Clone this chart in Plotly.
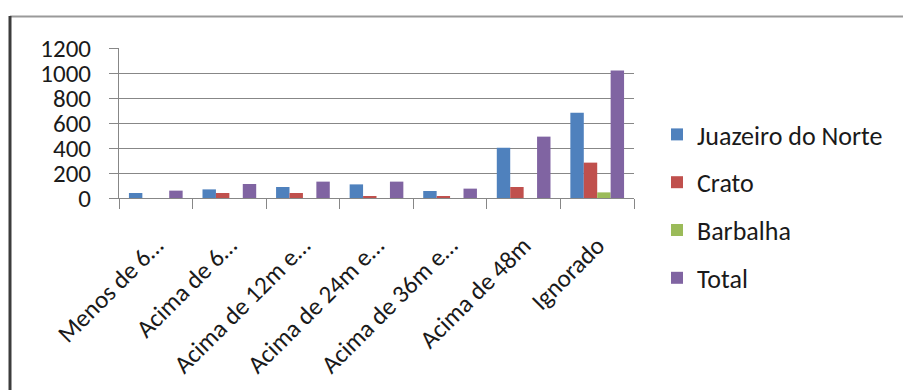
import plotly.graph_objects as go

categories = ["Menos de 6…", "Acima de 6…", "Acima de 12m e…", "Acima de 24m e…",
              "Acima de 36m e…", "Acima de 48m", "Ignorado"]
juazeiro = [40, 69, 88, 109, 56, 402, 683]
crato = [0, 40, 40, 16, 16, 88, 283]
barbalha = [0, 0, 0, 0, 0, 0, 45]
total = [59, 112, 131, 131, 75, 491, 1020]

series_names = ["Juazeiro do Norte", "Crato", "Barbalha", "Total"]
series_values = [juazeiro, crato, barbalha, total]
colors = ["#4F81BD", "#C0504D", "#9BBB59", "#8064A2"]

FONT = "Carlito, Lato, 'Open Sans', sans-serif"
FS = 25
W, H = 903, 390
ML, MR, MT, MB = 119, 269, 48, 192
pw, ph = W - ML - MR, H - MT - MB

fig = go.Figure()
for i, (name, vals, col) in enumerate(zip(series_names, series_values, colors)):
    fig.add_trace(go.Bar(x=categories, y=vals, name=name, marker_color=col,
                         marker_line_width=0, legendgroup=name))

def px_x(x):
    return (x - ML) / pw

def px_y(y):
    return (H - MB - y) / ph

fig.update_layout(
    width=W, height=H,
    margin=dict(l=ML, r=MR, t=MT, b=MB, pad=0, autoexpand=False),
    paper_bgcolor="white", plot_bgcolor="white",
    barmode="group", bargap=0.27, bargroupgap=0,
    font=dict(family=FONT, size=FS, color="#1a1a1a"),
    legend=dict(x=px_x(657), y=px_y(111), xanchor="left", yanchor="top",
                font=dict(family=FONT, size=FS + 1, color="#1a1a1a"),
                tracegroupgap=11, bgcolor="rgba(0,0,0,0)", maxheight=400),
    xaxis=dict(showline=True, linecolor="#878787", linewidth=1, automargin=False,
               ticks="outside", tickson="boundaries", ticklen=10, tickcolor="#878787",
               tickangle=-45, showgrid=False, ticklabelstandoff=22,
               tickfont=dict(family=FONT, size=FS, color="#1a1a1a")),
    yaxis=dict(range=[0, 1200], dtick=200, showline=True, linecolor="#878787", linewidth=1,
               ticks="outside", ticklen=9, tickcolor="#878787", ticklabelstandoff=13,
               automargin=False,
               showgrid=True, gridcolor="#878787", gridwidth=1, zeroline=False,
               tickfont=dict(family=FONT, size=FS, color="#1a1a1a")),
    shapes=[
        dict(type="line", xref="paper", yref="paper", x0=px_x(10), x1=px_x(903),
             y0=px_y(16.5), y1=px_y(16.5), line=dict(color="#9a9a9a", width=2)),
        dict(type="line", xref="paper", yref="paper", x0=px_x(10), x1=px_x(10),
             y0=px_y(16), y1=px_y(392), line=dict(color="#3c3c3c", width=3)),
    ],
)

fig.write_html("out.html")
